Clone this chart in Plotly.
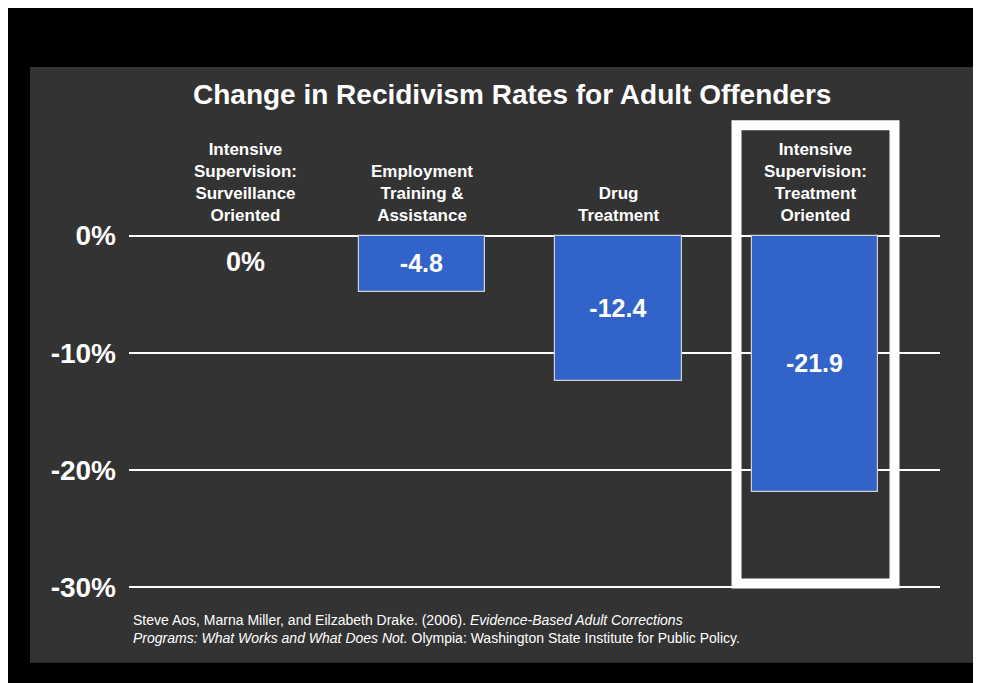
import plotly.graph_objects as go

# ---- data ----
categories = [
    "Intensive<br>Supervision:<br>Surveillance<br>Oriented",
    "Employment<br>Training &<br>Assistance",
    "Drug<br>Treatment",
    "Intensive<br>Supervision:<br>Treatment<br>Oriented",
]
values = [0.0, -4.8, -12.4, -21.9]
value_labels = ["0%", "-4.8", "-12.4", "-21.9"]
tick_vals = [0, -10, -20, -30]
tick_text = ["0%", "-10%", "-20%", "-30%"]
title_text = "Change in Recidivism Rates for Adult Offenders"
citation = ("Steve Aos, Marna Miller, and Eilzabeth Drake. (2006). <i>Evidence-Based Adult Corrections</i><br>"
            "<i>Programs: What Works and What Does Not.</i> Olympia: Washington State Institute for Public Policy.")
highlight_index = 3

# ---- layout geometry (page pixels; the page body adds an 8px offset) ----
W, H = 981, 683
O = 8
Y_PAD = 0.3
SCALE = 11.7  # px per percentage point
PL, PR = 129 - O, 940 - O
PT = 236 - Y_PAD * SCALE - O
PB = 587 + Y_PAD * SCALE - O
FONT = "Liberation Sans, Arial, sans-serif"


def px(x):
    return (x - O - PL) / (PR - PL)


def py(y):
    return (PB - (y - O)) / (PB - PT)


xs = list(range(len(categories)))

fig = go.Figure()
fig.add_trace(go.Bar(
    x=xs,
    y=[v if v != 0 else None for v in values],
    width=0.646,
    marker=dict(color="#3163c9", line=dict(color="#d0d0d0", width=1.2)),
    text=[t if v != 0 else "" for t, v in zip(value_labels, values)],
    textposition="inside",
    insidetextanchor="middle",
    textfont=dict(family=FONT, size=25, color="white", weight="bold"),
    hoverinfo="skip",
))

shapes = [
    # gray panel
    dict(type="rect", xref="paper", yref="paper", x0=px(30), x1=px(975), y0=py(662), y1=py(68),
         fillcolor="#333333", line_width=0, layer="below"),
    # highlight box
    dict(type="rect", xref="paper", yref="paper", x0=px(736.5), x1=px(894.5), y0=py(583), y1=py(126),
         fillcolor="rgba(0,0,0,0)", line=dict(color="white", width=10), layer="above"),
]

annotations = [
    dict(text="<b>" + title_text + "</b>", xref="paper", yref="paper", x=px(512), y=py(95),
         xanchor="center", yanchor="middle", showarrow=False,
         font=dict(family=FONT, size=28, color="white")),
    dict(text=citation, xref="paper", yref="paper", x=px(131), y=py(628),
         xanchor="left", yanchor="middle", align="left", showarrow=False,
         font=dict(family=FONT, size=14, color="white")),
]
for i, (c, v, t) in enumerate(zip(categories, values, value_labels)):
    annotations.append(dict(
        text="<b>" + c + "</b>", x=i + (0.1 if i == 0 else 0), xref="x", yref="paper", y=py(228),
        xanchor="center", yanchor="bottom", showarrow=False, align="center",
        font=dict(family=FONT, size=17, color="white")))
    if v == 0:
        annotations.append(dict(
            text="<b>" + t + "</b>", x=i + 0.1, xref="x", y=py(262), yref="paper",
            xanchor="center", yanchor="middle", showarrow=False,
            font=dict(family=FONT, size=27, color="white")))

fig.update_layout(
    width=W, height=H,
    margin=dict(l=PL, r=W - PR, t=PT, b=H - PB, pad=0),
    paper_bgcolor="black",
    plot_bgcolor="rgba(0,0,0,0)",
    showlegend=False,
    bargap=0,
    shapes=shapes,
    annotations=annotations,
    xaxis=dict(range=[-0.491, 3.636], showticklabels=False, showgrid=False, zeroline=False,
               fixedrange=True),
    yaxis=dict(range=[-30 - Y_PAD, Y_PAD], tickvals=tick_vals, ticktext=tick_text, showgrid=True,
               gridcolor="white", gridwidth=1.5, zeroline=False, ticks="", ticklen=0,
               ticklabelstandoff=12,
               tickfont=dict(family=FONT, size=28, color="white", weight="bold"),
               fixedrange=True),
)
fig.write_html("out.html", config={"displayModeBar": False})
